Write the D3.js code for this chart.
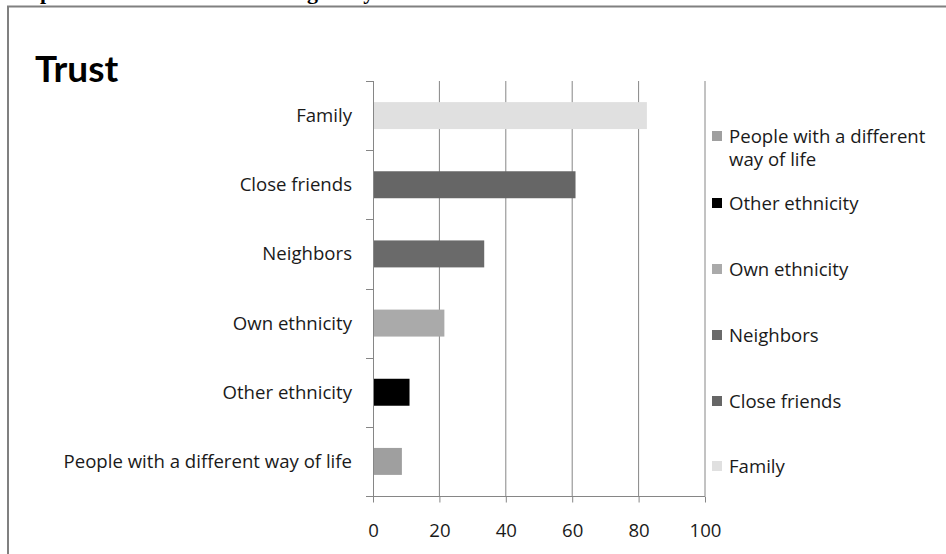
<!DOCTYPE html>
<html>
<head>
<meta charset="utf-8">
<script src="https://cdn.jsdelivr.net/npm/d3@7"></script>
<style>
  html, body { margin: 0; padding: 0; background: #fff; }
  svg { display: block; }
  text { font-family: "Open Sans", Lato, sans-serif; fill: #1a1a1a; }
</style>
</head>
<body>
<svg id="chart" width="946" height="554"></svg>
<script>
// Categories, top to bottom as drawn
const categories = ["Family", "Close friends", "Neighbors", "Own ethnicity", "Other ethnicity", "People with a different way of life"];
const values = [82.5, 61, 33.5, 21.5, 11, 8.7];
const colors = ["#e0e0e0", "#666666", "#6a6a6a", "#aaaaaa", "#000000", "#9f9f9f"];
const xTicks = [0, 20, 40, 60, 80, 100];
// Legend runs in reverse series order
const legendItems = [
  { lines: ["People with a different", "way of life"], color: "#9f9f9f" },
  { lines: ["Other ethnicity"], color: "#000000" },
  { lines: ["Own ethnicity"], color: "#aaaaaa" },
  { lines: ["Neighbors"], color: "#6a6a6a" },
  { lines: ["Close friends"], color: "#666666" },
  { lines: ["Family"], color: "#e0e0e0" }
];

const svg = d3.select("#chart");
const labelSize = "18.6px";

// Caption above the frame, mostly clipped by the page edge
svg.append("text")
  .attr("x", 2).attr("y", -1)
  .style("font-family", "'Liberation Serif', 'Times New Roman', serif")
  .style("font-weight", "bold").style("font-size", "22px")
  .style("fill", "#000")
  .text("Graph 1: Trust levels and heterogeneity");

// Chart frame
svg.append("path")
  .attr("d", "M8,560 L8,6.5 L960,6.5")
  .attr("fill", "none").attr("stroke", "#808080").attr("stroke-width", 2);

// Title
svg.append("text")
  .attr("x", 35).attr("y", 82)
  .style("font-family", "Lato, sans-serif")
  .style("font-weight", "bold").style("font-size", "37px")
  .style("fill", "#000")
  .text("Trust");

const x = d3.scaleLinear().domain([0, 100]).range([373, 705]);
const y = d3.scaleBand().domain(categories).range([81, 496]).paddingInner(0.61).paddingOuter(0.305);
const yOuter = d3.scaleBand().domain(categories).range([81, 496]);

// Vertical gridlines
svg.append("g").selectAll("line")
  .data(xTicks.slice(1))
  .join("line")
  .attr("x1", d => x(d)).attr("x2", d => x(d))
  .attr("y1", 81).attr("y2", 496)
  .attr("stroke", "#868686").attr("stroke-width", 1);

// Bars
svg.append("g").selectAll("rect")
  .data(categories)
  .join("rect")
  .attr("x", x(0))
  .attr("y", d => y(d))
  .attr("width", (d, i) => x(values[i]) - x(0))
  .attr("height", y.bandwidth())
  .attr("fill", (d, i) => colors[i]);

// Category axis with ticks between bands
const yAxisG = svg.append("g");
yAxisG.append("line")
  .attr("x1", 373.5).attr("x2", 373.5).attr("y1", 81).attr("y2", 496)
  .attr("stroke", "#868686");
const boundaries = categories.map(c => yOuter(c)).concat([496]);
yAxisG.selectAll("line.tk")
  .data(boundaries)
  .join("line").attr("class", "tk")
  .attr("x1", 366).attr("x2", 373.5)
  .attr("y1", d => Math.round(d) + 0.5).attr("y2", d => Math.round(d) + 0.5)
  .attr("stroke", "#868686");
yAxisG.selectAll("text")
  .data(categories)
  .join("text")
  .attr("x", 352)
  .attr("y", d => yOuter(d) + yOuter.bandwidth() / 2)
  .attr("dy", "0.35em")
  .attr("text-anchor", "end")
  .style("font-size", labelSize)
  .text(d => d);

// Value axis
const xAxis = d3.axisBottom(x).tickValues(xTicks).tickSize(6).tickPadding(21).tickFormat(d3.format("d"));
const xg = svg.append("g").attr("transform", "translate(0,496.5)").call(xAxis);
xg.select(".domain").attr("stroke", "#868686").attr("d", "M373,0H705");
xg.selectAll(".tick line").attr("stroke", "#868686");
xg.selectAll(".tick text").style("font-size", labelSize).style("font-family", "'Open Sans', sans-serif").attr("fill", "#1a1a1a");

// Legend
const legendY = [136, 203, 269, 335, 401, 466];
const lg = svg.append("g").selectAll("g")
  .data(legendItems)
  .join("g")
  .attr("transform", (d, i) => `translate(712,${legendY[i]})`);
lg.append("rect")
  .attr("x", 0).attr("y", -5).attr("width", 10).attr("height", 10)
  .attr("fill", d => d.color);
lg.append("text")
  .attr("x", 17).attr("y", 0)
  .style("font-size", labelSize)
  .selectAll("tspan")
  .data(d => d.lines)
  .join("tspan")
  .attr("x", 17)
  .attr("dy", (d, i) => i === 0 ? "0.35em" : "1.26em")
  .text(d => d);
</script>
</body>
</html>
